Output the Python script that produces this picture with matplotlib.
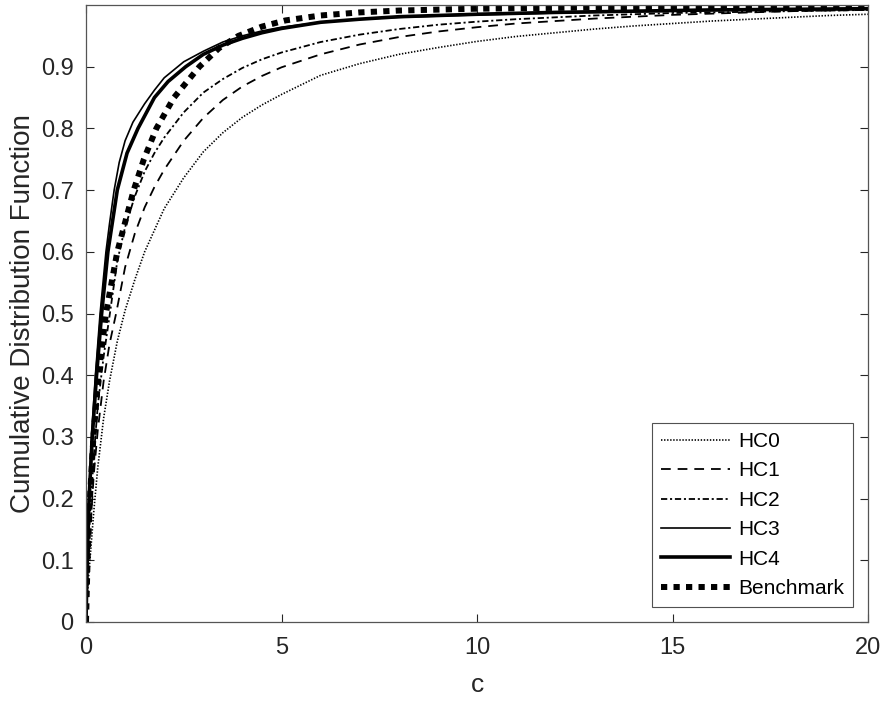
import matplotlib
matplotlib.use("Agg")
import matplotlib.pyplot as plt

plt.rcParams['font.family'] = ['Liberation Sans', 'DejaVu Sans']
plt.rcParams['lines.scale_dashes'] = False

# values
c_hc0 = [0, 0.05, 0.1, 0.2, 0.3, 0.45, 0.6, 0.8, 1.0, 1.25, 1.5, 1.75, 2.0, 2.5, 3.0, 3.5, 4.0, 4.5, 5.0,
         6, 7, 8, 9, 10, 11, 12, 13, 14, 15, 16, 17, 18, 19, 20]
v_hc0 = [0, 0.06, 0.1, 0.18, 0.25, 0.33, 0.39, 0.455, 0.505, 0.555, 0.6, 0.635, 0.67, 0.72, 0.762, 0.793, 0.818, 0.838, 0.855,
         0.886, 0.905, 0.92, 0.931, 0.941, 0.949, 0.955, 0.961, 0.966, 0.97, 0.974, 0.977, 0.98, 0.983, 0.985]

c_hc1 = [0, 0.05, 0.1, 0.2, 0.3, 0.45, 0.6, 0.77, 1.0, 1.25, 1.5, 1.75, 2.0, 2.5, 3.0, 3.5, 4.0, 4.5, 5.0,
         6, 7, 8, 9, 10, 11, 12, 13, 14, 15, 16, 17, 18, 19, 20]
v_hc1 = [0, 0.08, 0.14, 0.24, 0.31, 0.39, 0.45, 0.5, 0.575, 0.63, 0.672, 0.705, 0.733, 0.78, 0.817, 0.846, 0.868, 0.885, 0.899,
         0.92, 0.936, 0.948, 0.957, 0.964, 0.97, 0.974, 0.978, 0.981, 0.984, 0.986, 0.988, 0.99, 0.991, 0.992]

c_hc2 = [0, 0.05, 0.1, 0.2, 0.3, 0.45, 0.6, 0.8, 1.0, 1.25, 1.5, 1.75, 2.0, 2.5, 3.0, 3.5, 4.0, 4.5, 5.0,
         6, 7, 8, 9, 10, 11, 12, 13, 14, 15, 16, 17, 18, 19, 20]
v_hc2 = [0, 0.1, 0.17, 0.27, 0.35, 0.43, 0.495, 0.585, 0.64, 0.69, 0.73, 0.76, 0.785, 0.826, 0.858, 0.88, 0.898, 0.912, 0.923,
         0.94, 0.952, 0.961, 0.968, 0.973, 0.977, 0.98, 0.983, 0.985, 0.987, 0.988, 0.989, 0.99, 0.991, 0.992]

c_hc3 = [0, 0.025, 0.07, 0.14, 0.24, 0.36, 0.51, 0.6, 0.72, 0.85, 1.0, 1.2, 1.5, 1.75, 2.0, 2.5, 3.0, 3.5, 4.0, 4.5, 5.0,
         6, 7, 8, 10, 12, 14, 16, 18, 20]
v_hc3 = [0, 0.1, 0.2, 0.3, 0.4, 0.5, 0.6, 0.645, 0.7, 0.745, 0.78, 0.81, 0.84, 0.862, 0.882, 0.908, 0.925, 0.94, 0.95, 0.958, 0.964,
         0.972, 0.977, 0.98, 0.984, 0.987, 0.989, 0.991, 0.992, 0.993]

c_hc4 = [0, 0.03, 0.08, 0.16, 0.27, 0.4, 0.56, 0.8, 1.05, 1.33, 1.75, 2.1, 2.55, 3.0, 3.5, 4.0, 4.5, 5.0,
         6, 7, 8, 10, 12, 14, 16, 18, 20]
v_hc4 = [0, 0.1, 0.2, 0.3, 0.4, 0.5, 0.6, 0.7, 0.76, 0.8, 0.85, 0.876, 0.9, 0.92, 0.935, 0.946, 0.955, 0.962,
         0.972, 0.977, 0.981, 0.985, 0.988, 0.99, 0.992, 0.993, 0.994]

c_bench = [0, 0.04, 0.1, 0.19, 0.32, 0.51, 0.8, 1.22, 1.48, 1.8, 2.25, 2.9, 3.4, 3.9, 4.5, 5.1, 6, 7, 8, 10, 13, 16, 20]
v_bench = [0, 0.1, 0.2, 0.3, 0.4, 0.5, 0.6, 0.7, 0.75, 0.8, 0.85, 0.9, 0.93, 0.95, 0.965, 0.975, 0.983, 0.988, 0.991, 0.994, 0.996, 0.997, 0.998]

y_ticks = [0, 0.1, 0.2, 0.3, 0.4, 0.5, 0.6, 0.7, 0.8, 0.9]
x_ticks = [0, 5, 10, 15, 20]

fig = plt.figure(figsize=(8.88, 7.02), dpi=100)
ax = fig.add_axes([86/888, 80/702, 782/888, 617/702])

ax.plot(c_hc0, v_hc0, color='k', lw=1.2, dashes=(1.0, 1.2), label='HC0')
ax.plot(c_hc1, v_hc1, color='k', lw=1.3, dashes=(7, 5), label='HC1')
ax.plot(c_hc2, v_hc2, color='k', lw=1.3, dashes=(4.5, 2, 1.5, 2), label='HC2')
ax.plot(c_hc3, v_hc3, color='k', lw=1.2, label='HC3')
ax.plot(c_hc4, v_hc4, color='k', lw=2.6, label='HC4')
ax.plot(c_bench, v_bench, color='k', lw=4.3, dashes=(4.5, 4.5), dash_capstyle='butt', label='Benchmark')

ax.set_xlim(0, 20)
ax.set_ylim(0, 1)
ax.set_xticks(x_ticks)
ax.set_yticks(y_ticks)
ax.set_yticklabels([str(t) if t != 0 else '0' for t in y_ticks])
ax.tick_params(direction='in', length=6, width=0.8, top=True, right=True,
               labelsize=17, colors='#262626', pad=9)
ax.tick_params(axis='x', pad=11)
for s in ax.spines.values():
    s.set_color('#555555')
    s.set_linewidth(0.9)

ax.set_xlabel('c', fontsize=19, color='#262626', labelpad=10)
ax.set_ylabel('Cumulative Distribution Function', fontsize=20, color='#262626', labelpad=3)

leg = ax.legend(loc='lower right', fontsize=15, frameon=True, fancybox=False,
                edgecolor='#262626', handlelength=3.3, labelspacing=0.5,
                borderaxespad=0.7, handletextpad=0.4, borderpad=0.45)
leg.get_frame().set_linewidth(0.8)

fig.savefig('out.png', dpi=100)
